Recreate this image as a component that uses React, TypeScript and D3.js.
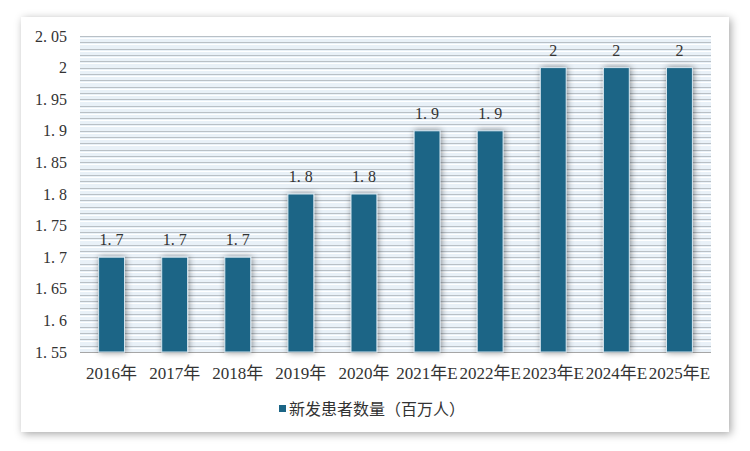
import React from "react";
import * as d3 from "d3";

const categories = ["2016年", "2017年", "2018年", "2019年", "2020年", "2021年E", "2022年E", "2023年E", "2024年E", "2025年E"];
const values = [1.7, 1.7, 1.7, 1.8, 1.8, 1.9, 1.9, 2, 2, 2];
const yTicks = [1.55, 1.6, 1.65, 1.7, 1.75, 1.8, 1.85, 1.9, 1.95, 2, 2.05];
const seriesName = "新发患者数量（百万人）";

const W = 750, H = 451;
const M = { left: 80, right: 711, top: 36, bottom: 352 };
const FONT = "'Liberation Serif', 'DejaVu Serif', 'Noto Sans CJK SC', serif";
const BAR = "#1b6586";

function NumText({ v, x, y, anchor }: { v: string; x: number; y: number; anchor: string }) {
  const parts = v.split(".");
  if (parts.length === 1) {
    return <text x={x} y={y} textAnchor={anchor} fontFamily={FONT} fontSize={16} fill="#333">{v}</text>;
  }
  return (
    <text x={x} y={y} textAnchor={anchor} fontFamily={FONT} fontSize={16} fill="#333">
      <tspan>{parts[0] + "."}</tspan>
      <tspan dx={4}>{parts[1]}</tspan>
    </text>
  );
}

export default function App() {
  const x = d3.scaleBand<string>().domain(categories).range([M.left, M.right]).paddingInner(0.59).paddingOuter(0.295);
  const y = d3.scaleLinear().domain([1.55, 2.05]).range([M.bottom, M.top]);
  const minor = d3.range(0, 51).map((i) => 1.55 + i * 0.01);
  const fmt = (v: number) => String(+v.toFixed(2));

  return (
    <svg width={W} height={H} style={{ position: "absolute", left: 0, top: 0 }}>
      <defs>
        <filter id="card" x="-5%" y="-5%" width="110%" height="110%">
          <feDropShadow dx={2} dy={2} stdDeviation={4} floodColor="#000" floodOpacity={0.35} />
        </filter>
        <filter id="barsh" x="-50%" y="-10%" width="200%" height="120%">
          <feDropShadow dx={1} dy={0} stdDeviation={3} floodColor="#000" floodOpacity={0.45} />
        </filter>
      </defs>
      <rect x={0} y={0} width={W} height={H} fill="#fff" />
      <rect x={21} y={17} width={708} height={415} fill="#fff" filter="url(#card)" />
      <rect x={M.left} y={M.top} width={M.right - M.left} height={M.bottom - M.top} fill="#e9f1f8" />
      {minor.map((v, i) => (
        <g key={i}>
          <line x1={M.left} x2={M.right} y1={Math.round(y(v)) + 0.5} y2={Math.round(y(v)) + 0.5} stroke="#b9c0c6" strokeWidth={1} />
          {i > 0 && (
            <line x1={M.left} x2={M.right} y1={Math.round(y(v)) + 2.5} y2={Math.round(y(v)) + 2.5} stroke="#ffffff" strokeWidth={1} />
          )}
        </g>
      ))}
      <line x1={M.left} x2={M.right} y1={M.bottom + 0.5} y2={M.bottom + 0.5} stroke="#a6a6a6" strokeWidth={1} />
      {yTicks.map((t) => (
        <NumText key={t} v={fmt(t)} x={67} y={y(t) + 5.5} anchor="end" />
      ))}
      {categories.map((c, i) => {
        const bx = x(c)!;
        const bw = x.bandwidth();
        const top = y(values[i]);
        return (
          <g key={c}>
            <rect x={bx} y={top} width={bw} height={M.bottom - top} fill={BAR} stroke="#d5e5ee" strokeWidth={1} filter="url(#barsh)" />
            <NumText v={fmt(values[i])} x={bx + bw / 2} y={top - 12} anchor="middle" />
            <text x={bx + bw / 2} y={379} textAnchor="middle" fontFamily={FONT} fontSize={17} fill="#333">{c}</text>
          </g>
        );
      })}
      <rect x={279} y={405} width={7} height={7} fill={BAR} />
      <text x={289} y={415} fontFamily={FONT} fontSize={16} fill="#333">{seriesName}</text>
    </svg>
  );
}
